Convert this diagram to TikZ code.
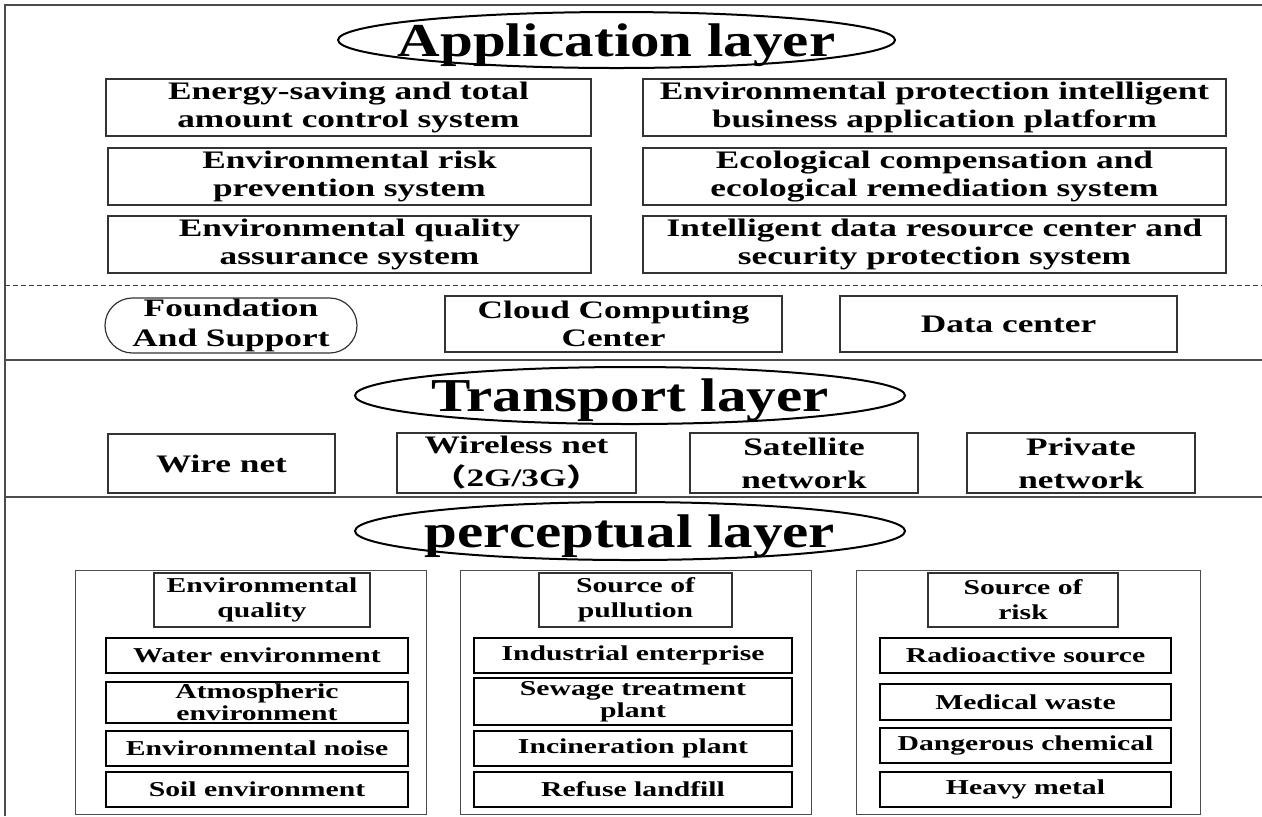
\documentclass[tikz,border=0pt]{standalone}
\usepackage{fontspec}
\setmainfont{Liberation Serif}[FakeStretch=1.4]
\newfontfamily\titlefont{Liberation Serif}[FakeStretch=1.25]
\newfontfamily\cjkfont{Noto Sans CJK SC}[FakeStretch=1.4]
\usetikzlibrary{shapes.geometric,shapes.misc}

% \placebox{name}{x1}{y1}{x2}{y2}{style}{text}: node filling the given corners
\newcommand\placebox[7]{%
  \pgfmathsetmacro\pbcx{(#2+#4)/2}%
  \pgfmathsetmacro\pbcy{(#3+#5)/2}%
  \pgfmathsetmacro\pbw{(#4-#2)*0.5}%
  \pgfmathsetmacro\pbh{(#5-#3)*0.5}%
  \node[#6, minimum width=\pbw pt, minimum height=\pbh pt] (#1) at (\pbcx,\pbcy) {#7};%
}

\begin{document}
\begin{tikzpicture}[x=0.5pt,y=-0.5pt,
  frame/.style={draw=black!70, line width=0.6pt},
  sepdash/.style={draw=black!75, line width=0.5pt, dash pattern=on 2.5pt off 1.5pt},
  layertitle/.style={draw=black, line width=1pt, ellipse, inner sep=0pt,
    label={[font=\titlefont\bfseries\fontsize{23.6}{26}\selectfont, yshift=-2.5pt]center:#1}},
  sysbox/.style={draw=black!80, line width=0.6pt, align=center, inner sep=0pt,
    font=\bfseries\fontsize{12.6}{14}\selectfont},
  netbox/.style={draw=black!80, line width=0.6pt, align=center, inner sep=0pt,
    font=\bfseries\fontsize{12.6}{16.5}\selectfont},
  roundbox/.style={draw=black!80, line width=0.6pt, rounded rectangle, align=center, inner sep=0pt,
    font=\bfseries\fontsize{12.6}{15}\selectfont},
  groupbox/.style={draw=black!70, line width=0.5pt},
  headbox/.style={draw=black!80, line width=0.6pt, align=center, inner sep=0pt,
    font=\bfseries\fontsize{10.6}{12.5}\selectfont},
  itembox/.style={draw=black, line width=1.1pt, align=center, inner sep=0pt,
    font=\bfseries\fontsize{10.6}{11}\selectfont}
]
\useasboundingbox (0,0) rectangle (1262,816);

% outer frame and layer separators
\coordinate (fBL) at (5,816);
\coordinate (fTL) at (5,5);
\coordinate (fTR) at (1262,5);
\draw[frame] (fBL) -- (fTL) -- (fTR);
\coordinate (dL) at (5,285);   \coordinate (dR) at (1262,285);
\coordinate (s1L) at (5,360);  \coordinate (s1R) at (1262,360);
\coordinate (s2L) at (5,497);  \coordinate (s2R) at (1262,497);
\draw[sepdash] (dL) -- (dR);
\draw[frame] (s1L) -- (s1R);
\draw[frame] (s2L) -- (s2R);

% application layer
\placebox{appT}{338}{12}{895}{68}{layertitle={Application layer}}{}
\placebox{appL1}{106}{79}{591}{136}{sysbox}{Energy-saving and total\\amount control system}
\placebox{appL2}{108}{148}{591}{205}{sysbox}{Environmental risk\\prevention system}
\placebox{appL3}{108}{216}{591}{273}{sysbox}{Environmental quality\\assurance system}
\placebox{appR1}{643}{79}{1226}{136}{sysbox}{Environmental protection intelligent\\business application platform}
\placebox{appR2}{643}{148}{1226}{205}{sysbox}{Ecological compensation and\\ecological remediation system}
\placebox{appR3}{643}{216}{1226}{273}{sysbox}{Intelligent data resource center and\\security protection system}

% foundation and support
\placebox{found}{105}{298}{357}{353}{roundbox}{Foundation\\And Support}
\placebox{cloud}{445}{296}{782}{352}{sysbox}{Cloud Computing\\Center}
\placebox{data}{840}{296}{1177}{352}{sysbox}{Data center}

% transport layer
\placebox{trT}{355}{367}{905}{424}{layertitle={Transport layer}}{}
\placebox{wire}{108}{434}{335}{493}{netbox}{Wire net}
\placebox{wless}{397}{433}{636}{493}{netbox}{Wireless net\\{\cjkfont （}2G/3G{\cjkfont ）}}
\placebox{sat}{690}{433}{918}{493}{netbox}{Satellite\\network}
\placebox{priv}{967}{433}{1195}{493}{netbox}{Private\\network}

% perceptual layer
\placebox{perT}{355}{502}{905}{560}{layertitle={perceptual layer}}{}

\placebox{g1}{75}{570}{426}{814}{groupbox}{}
\placebox{g1h}{154}{573}{370}{627}{headbox}{Environmental\\quality}
\placebox{g1a}{106}{638}{408}{673}{itembox}{Water environment}
\placebox{g1b}{106}{682}{408}{723}{itembox}{Atmospheric\\environment}
\placebox{g1c}{106}{731}{408}{766}{itembox}{Environmental noise}
\placebox{g1d}{106}{772}{408}{807}{itembox}{Soil environment}

\placebox{g2}{460}{570}{811}{814}{groupbox}{}
\placebox{g2h}{539}{573}{732}{627}{headbox}{Source of\\pullution}
\placebox{g2a}{474}{638}{792}{673}{itembox}{Industrial enterprise}
\placebox{g2b}{474}{678}{792}{725}{itembox}{Sewage treatment\\plant}
\placebox{g2c}{474}{731}{792}{766}{itembox}{Incineration plant}
\placebox{g2d}{474}{772}{792}{807}{itembox}{Refuse landfill}

\placebox{g3}{856}{570}{1200}{814}{groupbox}{}
\placebox{g3h}{928}{573}{1118}{627}{headbox}{Source of\\risk}
\placebox{g3a}{880}{638}{1171}{673}{itembox}{Radioactive source}
\placebox{g3b}{880}{684}{1171}{720}{itembox}{Medical waste}
\placebox{g3c}{880}{728}{1171}{763}{itembox}{Dangerous chemical}
\placebox{g3d}{880}{772}{1171}{807}{itembox}{Heavy metal}
\end{tikzpicture}
\end{document}
